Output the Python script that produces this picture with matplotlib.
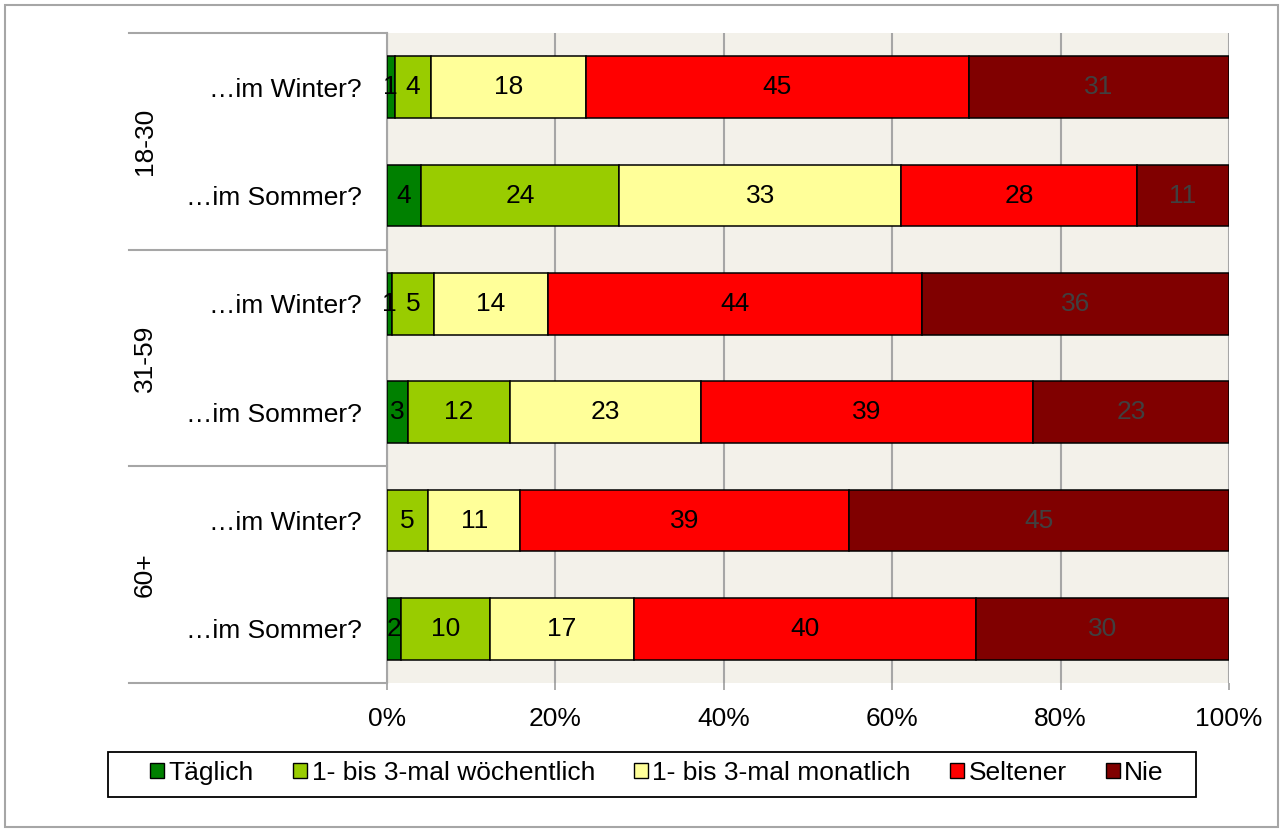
import matplotlib.pyplot as plt
import matplotlib.transforms as mtransforms
from matplotlib.patches import Rectangle

plt.rcParams['font.family'] = ['Liberation Sans', 'DejaVu Sans']

# categories (top to bottom)
rows = ['…im Winter?', '…im Sommer?'] * 3
groups = ['18-30', '31-59', '60+']
series = ['Täglich', '1- bis 3-mal wöchentlich', '1- bis 3-mal monatlich', 'Seltener', 'Nie']
colors = ['#008000', '#99CC00', '#FFFF99', '#FF0000', '#800000']
label_colors = ['black', 'black', 'black', 'black', '#404040']

# percent values per series, one entry per row (top to bottom)
taeglich = [0.9, 4.0, 0.6, 2.5, 0.0, 1.7]
woechentlich = [4.3, 23.6, 5.0, 12.1, 4.9, 10.5]
monatlich = [18.4, 33.5, 13.5, 22.7, 10.9, 17.1]
seltener = [45.5, 28.0, 44.4, 39.4, 39.1, 40.6]
nie = [30.9, 10.9, 36.5, 23.3, 45.1, 30.1]
values = [taeglich, woechentlich, monatlich, seltener, nie]

# printed labels (rounded values as shown in the chart)
taeglich_lbl = ['1', '4', '1', '3', '', '2']
woechentlich_lbl = ['4', '24', '5', '12', '5', '10']
monatlich_lbl = ['18', '33', '14', '23', '11', '17']
seltener_lbl = ['45', '28', '44', '39', '39', '40']
nie_lbl = ['31', '11', '36', '23', '45', '30']
labels = [taeglich_lbl, woechentlich_lbl, monatlich_lbl, seltener_lbl, nie_lbl]

fig = plt.figure(figsize=(12.81, 8.31), dpi=100)
ax = fig.add_axes([387 / 1281, 1 - 683 / 831, 842 / 1281, 650 / 831])
ax.set_facecolor('#F3F1EA')

y = list(range(len(rows)))
left = [0.0] * len(rows)
for vals, lbls, name, col, lc in zip(values, labels, series, colors, label_colors):
    bars = ax.barh(y, vals, left=left, height=0.57, color=col, edgecolor='black',
                   linewidth=1.1, label=name, zorder=3)
    for b, v, l, t in zip(bars, vals, left, lbls):
        if v > 0:
            ax.text(l + v / 2, b.get_y() + b.get_height() / 2, t,
                    ha='center', va='center', fontsize=19, color=lc, zorder=4)
    left = [a + b for a, b in zip(left, vals)]

ax.set_xlim(0, 100)
ax.set_ylim(len(rows) - 0.5, -0.5)
ax.set_xticks([0, 20, 40, 60, 80, 100])
ax.set_xticklabels(['0%', '20%', '40%', '60%', '80%', '100%'], fontsize=19)
ax.tick_params(axis='x', length=5, color='#A6A6A6', width=1.3, pad=12)
ax.set_yticks(y)
ax.set_yticklabels(rows, fontsize=19)
ax.tick_params(axis='y', length=0, pad=18)
ax.grid(axis='x', color='#A6A6A6', linewidth=1.5, zorder=0)
ax.set_axisbelow(True)
for s in ['top', 'right', 'bottom']:
    ax.spines[s].set_visible(False)
ax.spines['left'].set_color('#A6A6A6')
ax.spines['left'].set_linewidth(1.5)

# group labels and separators
trans = mtransforms.blended_transform_factory(ax.transAxes, ax.transData)
for i, g in enumerate(groups):
    ax.text(-0.2874, 2 * i + 0.5, g, rotation=90, ha='center', va='center',
            fontsize=19, transform=trans)
for yy in [-0.5, 1.5, 3.5, 5.5]:
    ax.plot([-0.3064, 0], [yy, yy], color='#A6A6A6', linewidth=1.5,
            transform=trans, clip_on=False)

# legend (frame drawn separately to get the wider side padding)
leg = fig.legend(loc='center', bbox_to_anchor=(657 / 1281, 1 - 773 / 831), ncol=5,
                 fontsize=19, frameon=False,
                 handlelength=0.53, handleheight=0.53, handletextpad=0.17,
                 columnspacing=1.48)
for h in leg.legend_handles:
    h.set_linewidth(1.0)
fig.patches.append(Rectangle((108 / 1281, 1 - 797 / 831), 1088 / 1281, 45 / 831,
                             transform=fig.transFigure, fill=False,
                             edgecolor='black', linewidth=1.3))

fig.patches.append(Rectangle((5 / 1281, 4 / 831), 1273 / 1281, 822 / 831,
                             transform=fig.transFigure, fill=False,
                             edgecolor='#A6A6A6', linewidth=1.5))

fig.savefig('out.png', dpi=100)
